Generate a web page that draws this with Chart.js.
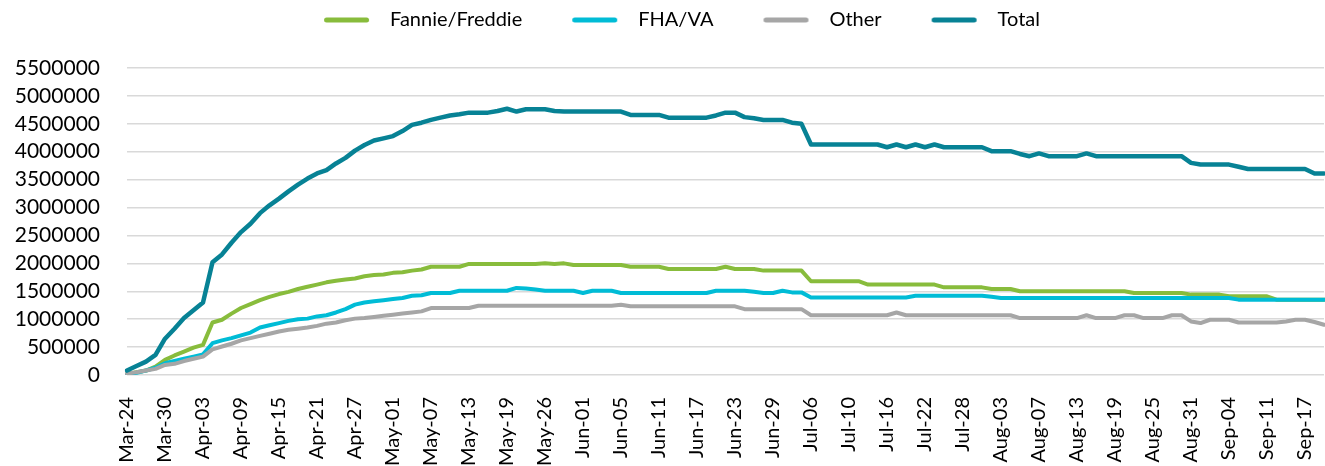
<!DOCTYPE html>
<html><head><meta charset="utf-8">
<script src="https://cdn.jsdelivr.net/npm/chart.js@4.4.1/dist/chart.umd.min.js"></script>
<style>html,body{margin:0;padding:0;background:#fff;overflow:hidden}#wrap{width:1325px;height:466px;position:relative}</style>
</head><body><div id="wrap"><canvas id="c" width="1325" height="466"></canvas></div>
<script>
const categories = ['Mar-24','Mar-25','Mar-26','Mar-27','Mar-30','Mar-31',
'Apr-01','Apr-02','Apr-03','Apr-06','Apr-07','Apr-08','Apr-09','Apr-10','Apr-13','Apr-14','Apr-15','Apr-16','Apr-17','Apr-20','Apr-21','Apr-22','Apr-23','Apr-24','Apr-27','Apr-28','Apr-29','Apr-30',
'May-01','May-04','May-05','May-06','May-07','May-08','May-11','May-12','May-13','May-14','May-15','May-18','May-19','May-20','May-21','May-22','May-26','May-27','May-28','May-29',
'Jun-01','Jun-02','Jun-03','Jun-04','Jun-05','Jun-08','Jun-09','Jun-10','Jun-11','Jun-12','Jun-15','Jun-16','Jun-17','Jun-18','Jun-19','Jun-22','Jun-23','Jun-24','Jun-25','Jun-26','Jun-29','Jun-30',
'Jul-01','Jul-02','Jul-06','Jul-07','Jul-08','Jul-09','Jul-10','Jul-13','Jul-14','Jul-15','Jul-16','Jul-17','Jul-20','Jul-21','Jul-22','Jul-23','Jul-24','Jul-27','Jul-28','Jul-29','Jul-30','Jul-31',
'Aug-03','Aug-04','Aug-05','Aug-06','Aug-07','Aug-10','Aug-11','Aug-12','Aug-13','Aug-14','Aug-17','Aug-18','Aug-19','Aug-20','Aug-21','Aug-24','Aug-25','Aug-26','Aug-27','Aug-28','Aug-31',
'Sep-01','Sep-02','Sep-03','Sep-04','Sep-08','Sep-09','Sep-10','Sep-11','Sep-14','Sep-15','Sep-16','Sep-17','Sep-18','Sep-21'];

const fannieFreddie = [20000,50000,80000,150000,270000,350000,420000,490000,540000,940000,
990000,1100000,1200000,1270000,1340000,1400000,1450000,1490000,1540000,1580000,
1620000,1660000,1690000,1710000,1730000,1770000,1790000,1800000,1830000,1840000,
1870000,1890000,1940000,1940000,1940000,1940000,1990000,1990000,1990000,1990000,
1990000,1990000,1990000,1990000,2000000,1990000,2000000,1970000,1970000,1970000,
1970000,1970000,1970000,1940000,1940000,1940000,1940000,1900000,1900000,1900000,
1900000,1900000,1900000,1940000,1900000,1900000,1900000,1870000,1870000,1870000,
1870000,1870000,1680000,1680000,1680000,1680000,1680000,1680000,1620000,1620000,
1620000,1620000,1620000,1620000,1620000,1620000,1570000,1570000,1570000,1570000,
1570000,1540000,1540000,1540000,1500000,1500000,1500000,1500000,1500000,1500000,
1500000,1500000,1500000,1500000,1500000,1500000,1470000,1470000,1470000,1470000,
1470000,1470000,1440000,1440000,1440000,1440000,1410000,1410000,1410000,1410000,
1410000,1350000,1350000,1350000,1350000,1350000,1350000];

const fhaVa = [10000,40000,80000,130000,210000,250000,290000,330000,370000,570000,
620000,660000,710000,760000,850000,890000,930000,970000,1000000,1010000,
1050000,1070000,1120000,1180000,1260000,1300000,1320000,1340000,1360000,1380000,
1420000,1430000,1470000,1470000,1470000,1510000,1510000,1510000,1510000,1510000,
1510000,1560000,1550000,1530000,1510000,1510000,1510000,1510000,1470000,1510000,
1510000,1510000,1470000,1470000,1470000,1470000,1470000,1470000,1470000,1470000,
1470000,1470000,1510000,1510000,1510000,1510000,1490000,1470000,1470000,1510000,
1480000,1480000,1390000,1390000,1390000,1390000,1390000,1390000,1390000,1390000,
1390000,1390000,1390000,1420000,1420000,1420000,1420000,1420000,1420000,1420000,
1420000,1400000,1380000,1380000,1380000,1380000,1380000,1380000,1380000,1380000,
1380000,1380000,1380000,1380000,1380000,1380000,1380000,1380000,1380000,1380000,
1380000,1380000,1380000,1380000,1380000,1380000,1380000,1350000,1350000,1350000,
1350000,1350000,1350000,1350000,1350000,1350000,1350000];

const other = [25000,50000,80000,110000,180000,200000,250000,290000,330000,460000,
510000,560000,620000,660000,700000,740000,780000,810000,830000,850000,
880000,920000,940000,980000,1010000,1020000,1040000,1060000,1080000,1100000,
1120000,1140000,1200000,1200000,1200000,1200000,1200000,1240000,1240000,1240000,
1240000,1240000,1240000,1240000,1240000,1240000,1240000,1240000,1240000,1240000,
1240000,1240000,1260000,1230000,1230000,1230000,1230000,1230000,1230000,1230000,
1230000,1230000,1230000,1230000,1230000,1180000,1180000,1180000,1180000,1180000,
1180000,1180000,1070000,1070000,1070000,1070000,1070000,1070000,1070000,1070000,
1070000,1120000,1070000,1070000,1070000,1070000,1070000,1070000,1070000,1070000,
1070000,1070000,1070000,1070000,1020000,1020000,1020000,1020000,1020000,1020000,
1020000,1070000,1020000,1020000,1020000,1070000,1070000,1020000,1020000,1020000,
1070000,1070000,960000,930000,990000,990000,990000,940000,940000,940000,
940000,940000,960000,990000,990000,950000,900000];

const total = [80000,160000,240000,360000,650000,830000,1020000,1160000,1300000,2020000,
2160000,2370000,2560000,2710000,2900000,3040000,3160000,3290000,3410000,3520000,
3610000,3670000,3790000,3890000,4020000,4120000,4200000,4240000,4280000,4370000,
4480000,4520000,4570000,4610000,4650000,4670000,4700000,4700000,4700000,4730000,
4770000,4720000,4760000,4760000,4760000,4730000,4720000,4720000,4720000,4720000,
4720000,4720000,4720000,4660000,4660000,4660000,4660000,4610000,4610000,4610000,
4610000,4610000,4650000,4700000,4700000,4620000,4600000,4570000,4570000,4570000,
4520000,4500000,4130000,4130000,4130000,4130000,4130000,4130000,4130000,4130000,
4080000,4130000,4080000,4130000,4080000,4130000,4080000,4080000,4080000,4080000,
4080000,4010000,4010000,4010000,3960000,3920000,3970000,3920000,3920000,3920000,
3920000,3970000,3920000,3920000,3920000,3920000,3920000,3920000,3920000,3920000,
3920000,3920000,3800000,3770000,3770000,3770000,3770000,3730000,3690000,3690000,
3690000,3690000,3690000,3690000,3690000,3610000,3610000];

const yTickValues = [0,500000,1000000,1500000,2000000,2500000,3000000,3500000,4000000,4500000,5000000,5500000];
const seriesNames = ['Fannie/Freddie','FHA/VA','Other','Total'];
const seriesColors = ['#88BC3C','#00BCD6','#A6A6A6','#078295'];

const FONT = 'Lato';
// legend swatch: blank lead-in (spacing between entries) then a short thick line
function swatch(color){
  const c = document.createElement('canvas');
  c.width = 96; c.height = 10;
  const g = c.getContext('2d');
  g.strokeStyle = color; g.lineWidth = 5; g.lineCap = 'round';
  g.beginPath(); g.moveTo(42.5,5); g.lineTo(82.5,5); g.stroke();
  return c;
}

const seriesData = [fannieFreddie, fhaVa, other, total];
const drawOrder = [3,2,1,0];
const datasets = seriesNames.map((name,k)=>({
  label: name,
  data: seriesData[k],
  borderColor: seriesColors[k],
  backgroundColor: seriesColors[k],
  borderWidth: k===3 ? 4.5 : 4,
  pointRadius: 0,
  pointHoverRadius: 0,
  pointStyle: swatch(seriesColors[k]),
  tension: 0,
  borderJoinStyle: 'round',
  borderCapStyle: 'round',
  order: drawOrder[k]
}));

const legendHeight = {
  id: 'legendHeight',
  beforeInit(chart){
    const orig = chart.legend.fit;
    chart.legend.fit = function(){ orig.bind(chart.legend)(); this.height = 68; };
  }
};

new Chart(document.getElementById('c'), {
  type: 'line',
  data: { labels: categories, datasets },
  plugins: [legendHeight],
  options: {
    responsive: false,
    animation: false,
    devicePixelRatio: 1,
    layout: { padding: { left: 0, right: 1, top: 0, bottom: 0 } },
    plugins: {
      tooltip: { enabled: false },
      legend: {
        display: true,
        position: 'top',
        align: 'center',
        labels: {
          usePointStyle: true,
          pointStyleWidth: 96,
          boxHeight: 10,
          padding: 10,
          color: '#000',
          font: { family: FONT, size: 20 },
          sort: (a,b) => a.datasetIndex - b.datasetIndex
        }
      }
    },
    scales: {
      x: {
        type: 'category',
        offset: false,
        grid: { display: false, drawTicks: false },
        border: { display: false },
        ticks: {
          autoSkip: false,
          minRotation: 90,
          maxRotation: 90,
          padding: 22,
          color: '#000',
          font: { family: FONT, size: 20 },
          callback: function(v, i){ return i % 4 === 0 ? categories[i] : null; }
        },
        afterFit(scale){ scale.height = 91; scale.paddingLeft = 0; scale.paddingRight = 0; }
      },
      y: {
        min: 0,
        max: 5500000,
        grid: { color: '#D9D9D9', lineWidth: 1.5, drawTicks: false },
        border: { display: false },
        afterBuildTicks(scale){ scale.ticks = yTickValues.map(v=>({value:v})); },
        ticks: {
          autoSkip: false,
          padding: 27,
          color: '#000',
          font: { family: FONT, size: 21, lineHeight: 1 },
          callback: v => String(v)
        },
        afterFit(scale){ scale.width = 127; scale.paddingTop = 0; scale.paddingBottom = 0; }
      }
    }
  }
});
</script>
</body></html>
